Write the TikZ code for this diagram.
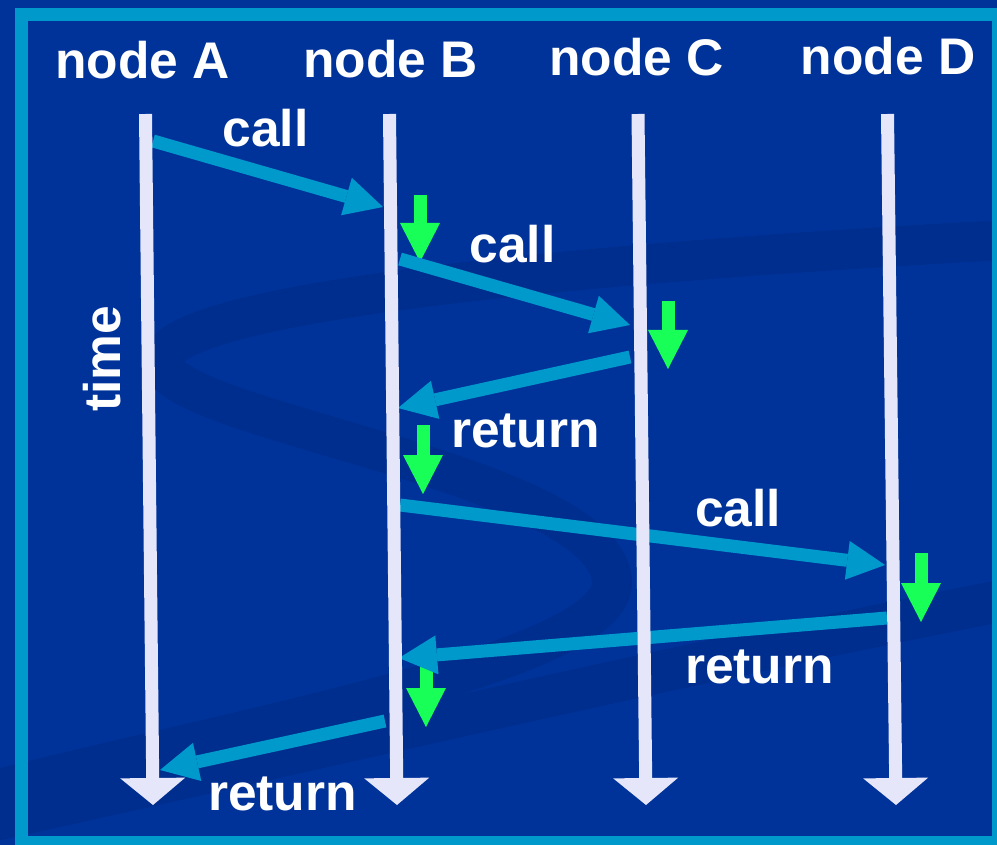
\documentclass[tikz,border=0pt]{standalone}
\usepackage{fontspec}
\setmainfont{Liberation Sans}
\usetikzlibrary{arrows.meta}
\definecolor{slidebg}{RGB}{0,51,153}
\definecolor{swooshc}{RGB}{0,46,142}
\definecolor{framec}{RGB}{0,153,204}
\definecolor{msgc}{RGB}{0,153,204}
\definecolor{lifec}{RGB}{230,230,250}
\definecolor{activec}{RGB}{24,255,88}

\begin{document}
\begin{tikzpicture}[x=1pt,y=-1pt,
  lbl/.style={text=white,font=\fontsize{51.5pt}{60pt}\selectfont\bfseries,inner sep=0pt,anchor=base},
  lifeline/.style={draw=lifec,line width=13pt,-{Triangle[length=27pt,width=65pt,line width=0pt]}},
  msg/.style={draw=msgc,line width=13pt,-{Triangle[length=38pt,width=39pt,line width=0pt]}},
  active/.style={draw=activec,line width=13pt,-{Triangle[length=39pt,width=40pt,line width=0pt]}},
  swoosh/.style={draw=swooshc,line cap=butt}]

% slide background
\fill[slidebg] (0,0) rectangle (997,845);
\useasboundingbox (0,0) rectangle (997,845);
\clip (0,0) rectangle (997,845);

% faint ribbon decoration behind the diagram
\draw[swoosh,line width=40pt] (1005,240) .. controls (600,262) and (170,300) .. (162,360)
  .. controls (155,420) and (600,470) .. (612,580)
  .. controls (620,660) and (250,725) .. (-5,790);
\draw[swoosh,line width=42pt] (-5,820) .. controls (400,730) and (700,660) .. (1005,600);

% frame
\draw[framec,line width=13pt] (21.5,14.5) rectangle (998,842.5);

% lifeline end points
\coordinate (A0) at (145.5,114); \coordinate (A1) at (153,805);
\coordinate (B0) at (389.5,114); \coordinate (B1) at (397,805);
\coordinate (C0) at (638,114);   \coordinate (C1) at (646,805);
\coordinate (D0) at (887.5,114); \coordinate (D1) at (896,805);

% message end points
\coordinate (m1s) at (153,141); \coordinate (m1e) at (383,207);
\coordinate (m2s) at (400,259); \coordinate (m2e) at (630,325);
\coordinate (m3s) at (630,357); \coordinate (m3e) at (398,408);
\coordinate (m4s) at (400,505); \coordinate (m4e) at (885,565);
\coordinate (m5s) at (887,618); \coordinate (m5e) at (399,658);
\coordinate (m6s) at (385,721); \coordinate (m6e) at (160,770);

% activity markers
\coordinate (g1s) at (420,195); \coordinate (g1e) at (420,262);
\coordinate (g2s) at (668,301); \coordinate (g2e) at (668,369);
\coordinate (g3s) at (423,425); \coordinate (g3e) at (423,494);
\coordinate (g4s) at (921,553); \coordinate (g4e) at (921,622);
\coordinate (g5s) at (426,662); \coordinate (g5e) at (426,727);

\foreach \g in {1,...,5} \draw[active] (g\g s) -- (g\g e);
\foreach \m in {1,...,6} \draw[msg] (m\m s) -- (m\m e);

\draw[lifeline] (A0) -- (A1);
\draw[lifeline] (B0) -- (B1);
\draw[lifeline] (C0) -- (C1);
\draw[lifeline] (D0) -- (D1);

% headings
\node[lbl] (nA) at (142.5,79) {node A};
\node[lbl] (nB) at (390.5,78) {node B};
\node[lbl] (nC) at (636.5,76) {node C};
\node[lbl] (nD) at (888,75) {node D};

% message labels
\node[lbl] (l1) at (265.5,147) {call};
\node[lbl] (l2) at (512.5,263) {call};
\node[lbl] (l3) at (525.5,447) {return};
\node[lbl] (l4) at (738,526) {call};
\node[lbl] (l5) at (759.5,683) {return};
\node[lbl] (l6) at (282.5,810) {return};

% time axis label
\node[lbl,rotate=90] (tm) at (120,359) {time};
\end{tikzpicture}
\end{document}
